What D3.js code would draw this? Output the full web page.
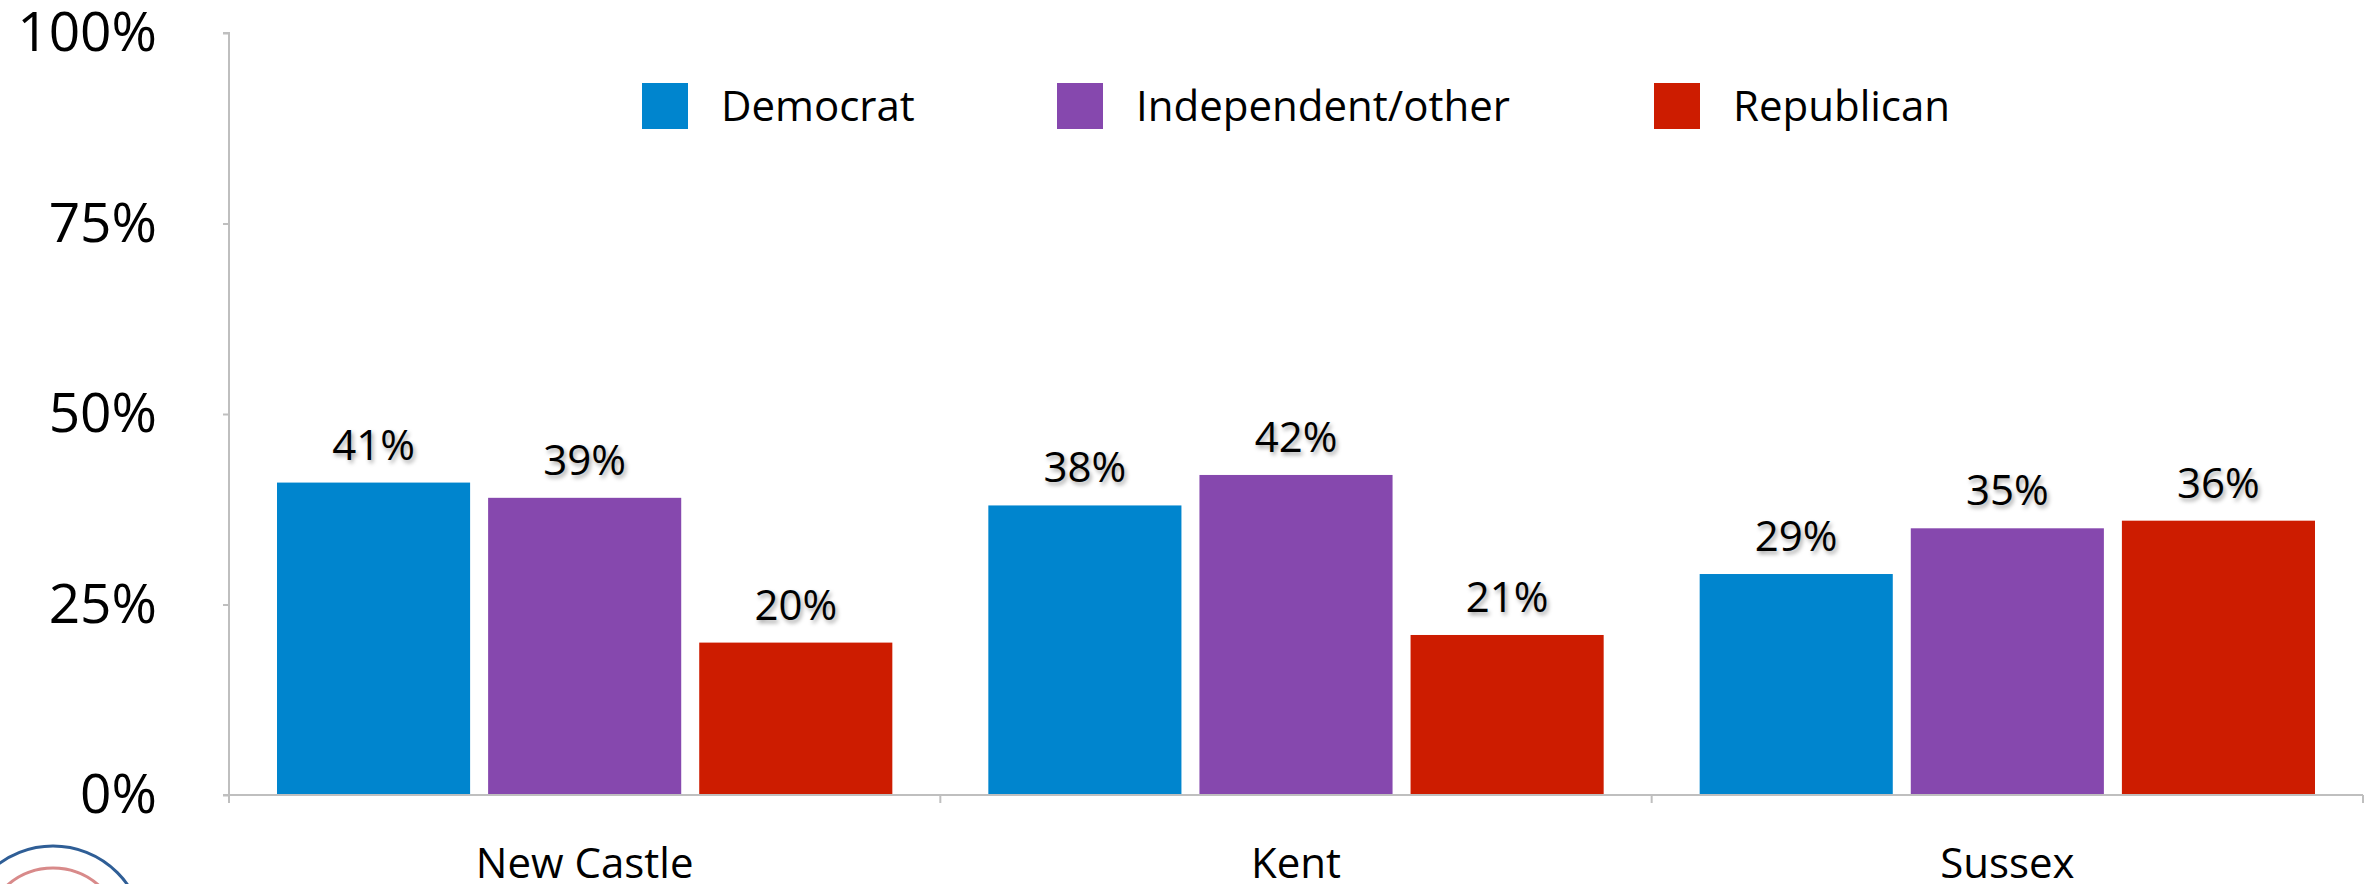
<!DOCTYPE html>
<html>
<head>
<meta charset="utf-8">
<script src="https://cdn.jsdelivr.net/npm/d3@7"></script>
<style>
  html, body { margin: 0; padding: 0; background: #fff; }
  svg text { font-family: "Open Sans", sans-serif; fill: #000; }
  .val { text-shadow: 2px 3px 4px rgba(0,0,0,0.35); }
</style>
</head>
<body>
<svg id="chart" width="2372" height="884"></svg>
<script>
const categories = ["New Castle", "Kent", "Sussex"];
const series = ["Democrat", "Independent/other", "Republican"];
const democrat = [0.41, 0.38, 0.29];
const independent = [0.39, 0.42, 0.35];
const republican = [0.20, 0.21, 0.36];
const yTicks = [0, 0.25, 0.5, 0.75, 1];
const colors = ["#0085CE", "#8648AE", "#CD1C00"];

(function () {
const values = [democrat, independent, republican];
const rows = [];
categories.forEach((c, i) => series.forEach((s, j) => rows.push({ cat: c, ser: s, v: values[j][i], j })));

const svg = d3.select("#chart");
const pLeft = 229, pRight = 2363, pTop = 33, pBottom = 795;

const y = d3.scaleLinear().domain([0, 1]).range([pBottom, pTop]);
const x0 = d3.scaleBand().domain(categories).range([pLeft, pRight]).padding(0);
const step = x0.bandwidth();
const x1 = d3.scaleBand().domain(series).range([48, step - 48]).paddingInner(0.0853).paddingOuter(0);
const color = d3.scaleOrdinal().domain(series).range(colors);

// Logo fragment (decorative)
const logo = svg.append("g");
logo.append("circle").attr("cx", 53).attr("cy", 937).attr("r", 91)
  .attr("fill", "none").attr("stroke", "#2f5e96").attr("stroke-width", 3);
logo.append("circle").attr("cx", 53).attr("cy", 937).attr("r", 69)
  .attr("fill", "none").attr("stroke", "#d88a8a").attr("stroke-width", 3);

// Bars
svg.append("g").selectAll("rect").data(rows).join("rect")
  .attr("x", d => x0(d.cat) + x1(d.ser))
  .attr("y", d => y(d.v))
  .attr("width", x1.bandwidth())
  .attr("height", d => y(0) - y(d.v))
  .attr("fill", d => color(d.ser));

// Value labels
svg.append("g").selectAll("text").data(rows).join("text")
  .attr("class", "val")
  .attr("x", d => x0(d.cat) + x1(d.ser) + x1.bandwidth() / 2)
  .attr("y", d => y(d.v) - 23)
  .attr("text-anchor", "middle")
  .attr("font-size", 42)
  .text(d => d3.format(".0%")(d.v));

// Y axis
const yAxis = svg.append("g").attr("transform", `translate(${pLeft},0)`)
  .call(d3.axisLeft(y).tickValues(yTicks).tickFormat(d3.format(".0%")).tickSize(6).tickPadding(66));
yAxis.select(".domain").attr("stroke", "#BFBFBF").attr("stroke-width", 2).attr("d", `M-6,${pTop}H0V${pBottom}`);
yAxis.selectAll(".tick line").attr("stroke", "#BFBFBF").attr("stroke-width", 2);
yAxis.selectAll(".tick text").attr("font-size", 55).attr("font-family", "Open Sans").attr("fill", "#000");

// X axis
const xAxis = svg.append("g").attr("transform", `translate(0,${pBottom})`)
  .call(d3.axisBottom(x0).tickSize(0).tickPadding(0));
xAxis.select(".domain").attr("stroke", "#BFBFBF").attr("stroke-width", 2).attr("d", `M${pLeft - 6},0H${pRight}`);
xAxis.selectAll(".tick text").attr("font-size", 42).attr("font-family", "Open Sans").attr("fill", "#000")
  .attr("y", 83).attr("dy", 0);
const bounds = categories.map(c => x0(c)).concat([pRight]);
xAxis.selectAll("line.bound").data(bounds).join("line").attr("class", "bound")
  .attr("x1", d => d).attr("x2", d => d).attr("y1", 0).attr("y2", 8)
  .attr("stroke", "#BFBFBF").attr("stroke-width", 2);

// Legend
const legendX = [642, 1057, 1654];
const legend = svg.append("g").selectAll("g").data(series).join("g")
  .attr("transform", (d, i) => `translate(${legendX[i]},83)`);
legend.append("rect").attr("width", 46).attr("height", 46).attr("fill", d => color(d));
legend.append("text").attr("x", 79).attr("y", 38).attr("font-size", 42).text(d => d);
})();
</script>
</body>
</html>
